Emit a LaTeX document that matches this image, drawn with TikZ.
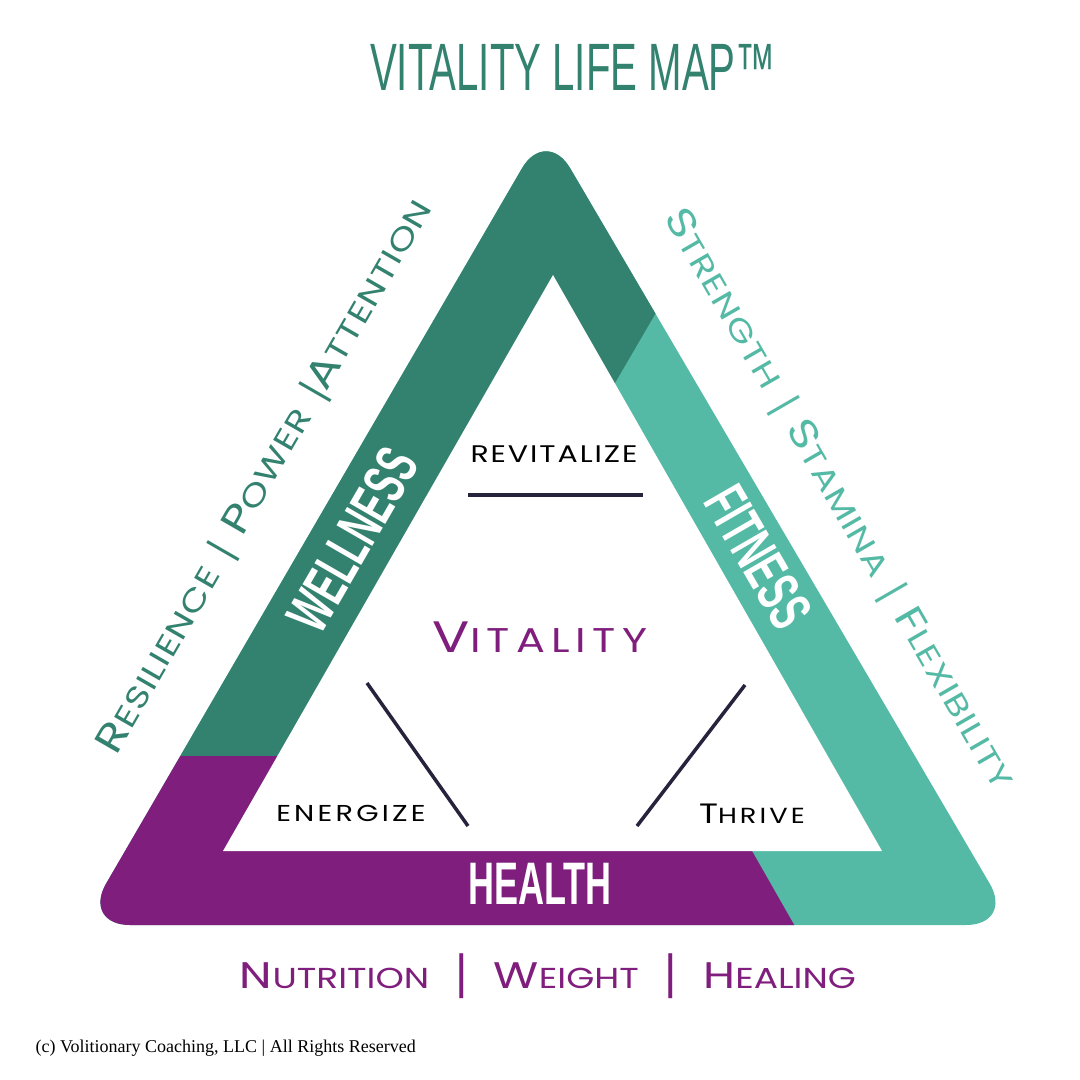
\documentclass[tikz,border=0pt]{standalone}
\usepackage{fontspec}
\setmainfont{Liberation Serif}
\setsansfont{Liberation Sans}
\newfontfamily\widefont[FakeStretch=1.25]{Poppins}
\newfontfamily\condfont[FakeStretch=0.6]{Liberation Sans}
\definecolor{vlgreen}{RGB}{51,130,111}
\definecolor{vlteal}{RGB}{85,186,165}
\definecolor{vlpurple}{RGB}{128,30,125}
\definecolor{vlnavy}{RGB}{38,35,60}
\makeatletter
\newcommand{\lc}[1]{{\fontsize{\fpeval{0.78*\f@size}}{0}\selectfont #1}}
\makeatother
\newcommand{\thinbar}{\textsf{|}}
\newcommand{\tallbar}{{\sffamily\fontsize{48}{48}\selectfont|}}

\begin{document}
\begin{tikzpicture}[
  x=1pt,y=-1pt,
  bandlabel/.style={text=white,font=\condfont\bfseries\fontsize{60}{60}\selectfont},
  sidetext/.style={font=\widefont\addfontfeature{LetterSpace=3}\fontsize{39}{39}\selectfont},
  innertext/.style={text=black,anchor=base},
  divider/.style={draw=vlnavy,line width=3.5pt},
]
  \useasboundingbox[fill=white] (0,0) rectangle (1080,1080);

  % Title
  \node[font=\condfont\fontsize{67}{67}\selectfont,text=vlgreen,anchor=base] (title)
    at (573,90) {VITALITY LIFE MAP™};

  % Triangle bands
  \begin{scope}
    \clip[rounded corners=48] (82,925) -- (546,127) -- (1014,925) -- cycle;
    \fill[vlteal] (0,0) rectangle (1080,1080);
    % Wellness band
    \fill[vlgreen] (0,756) -- (277,756) -- (615,383) -- (780,100) -- (0,100) -- cycle;
    % Health band
    \fill[vlpurple] (0,756) -- (277,756) -- (752,851) -- (837,1000) -- (0,1000) -- cycle;
  \end{scope}
  \fill[white] (553,275) -- (223,851) -- (882,851) -- cycle;

  % Band labels
  \node[bandlabel,rotate=60] (wellness) at (353,540) {WELLNESS};
  \node[bandlabel,rotate=-60] (fitness) at (758,557) {FITNESS};
  \node[bandlabel] (health) at (540,884) {HEALTH};

  % Side texts
  \node[sidetext,text=vlgreen,rotate=60] (wellnesstext) at (266,477)
    {R\lc{ESILIENCE}\hspace{16pt}\thinbar\hspace{16pt}P\lc{OWER}\hspace{16pt}\thinbar A\lc{TTENTION}};
  \node[sidetext,text=vlteal,rotate=-60] (fitnesstext) at (838,500)
    {S\lc{TRENGTH}\hspace{16pt}\thinbar\hspace{16pt}S\lc{TAMINA}\hspace{16pt}\thinbar\hspace{16pt}F\lc{LEXIBILITY}};
  \node[font=\widefont\fontsize{37}{37}\selectfont,text=vlpurple,anchor=base] (healthtext)
    at (548,988) {N\lc{UTRITION}\hspace{26pt}\tallbar\hspace{26pt}W\lc{EIGHT}\hspace{26pt}\tallbar\hspace{26pt}H\lc{EALING}};

  % Inner texts
  \node[innertext,font=\widefont\addfontfeature{LetterSpace=8}\fontsize{24}{24}\selectfont] (revitalize)
    at (554,462) {REVITALIZE};
  \draw[divider] (468,495) -- (643,495);
  \node[innertext,text=vlpurple,font=\widefont\addfontfeature{LetterSpace=18}\fontsize{44}{44}\selectfont] (vitality)
    at (540,652) {V\lc{ITALITY}};
  \draw[divider] (367,683) -- (468,826);
  \draw[divider] (745,685) -- (637,826);
  \node[innertext,font=\widefont\addfontfeature{LetterSpace=14}\fontsize{23}{23}\selectfont] (energize)
    at (351,821) {ENERGIZE};
  \node[innertext,font=\widefont\addfontfeature{LetterSpace=14}\fontsize{28}{28}\selectfont] (thrive)
    at (752,823) {T\lc{HRIVE}};

  % Footer
  \node[font=\fontsize{18}{18}\selectfont,anchor=base west] (copyright)
    at (32,1052) {(c) Volitionary Coaching, LLC | All Rights Reserved};
\end{tikzpicture}
\end{document}
